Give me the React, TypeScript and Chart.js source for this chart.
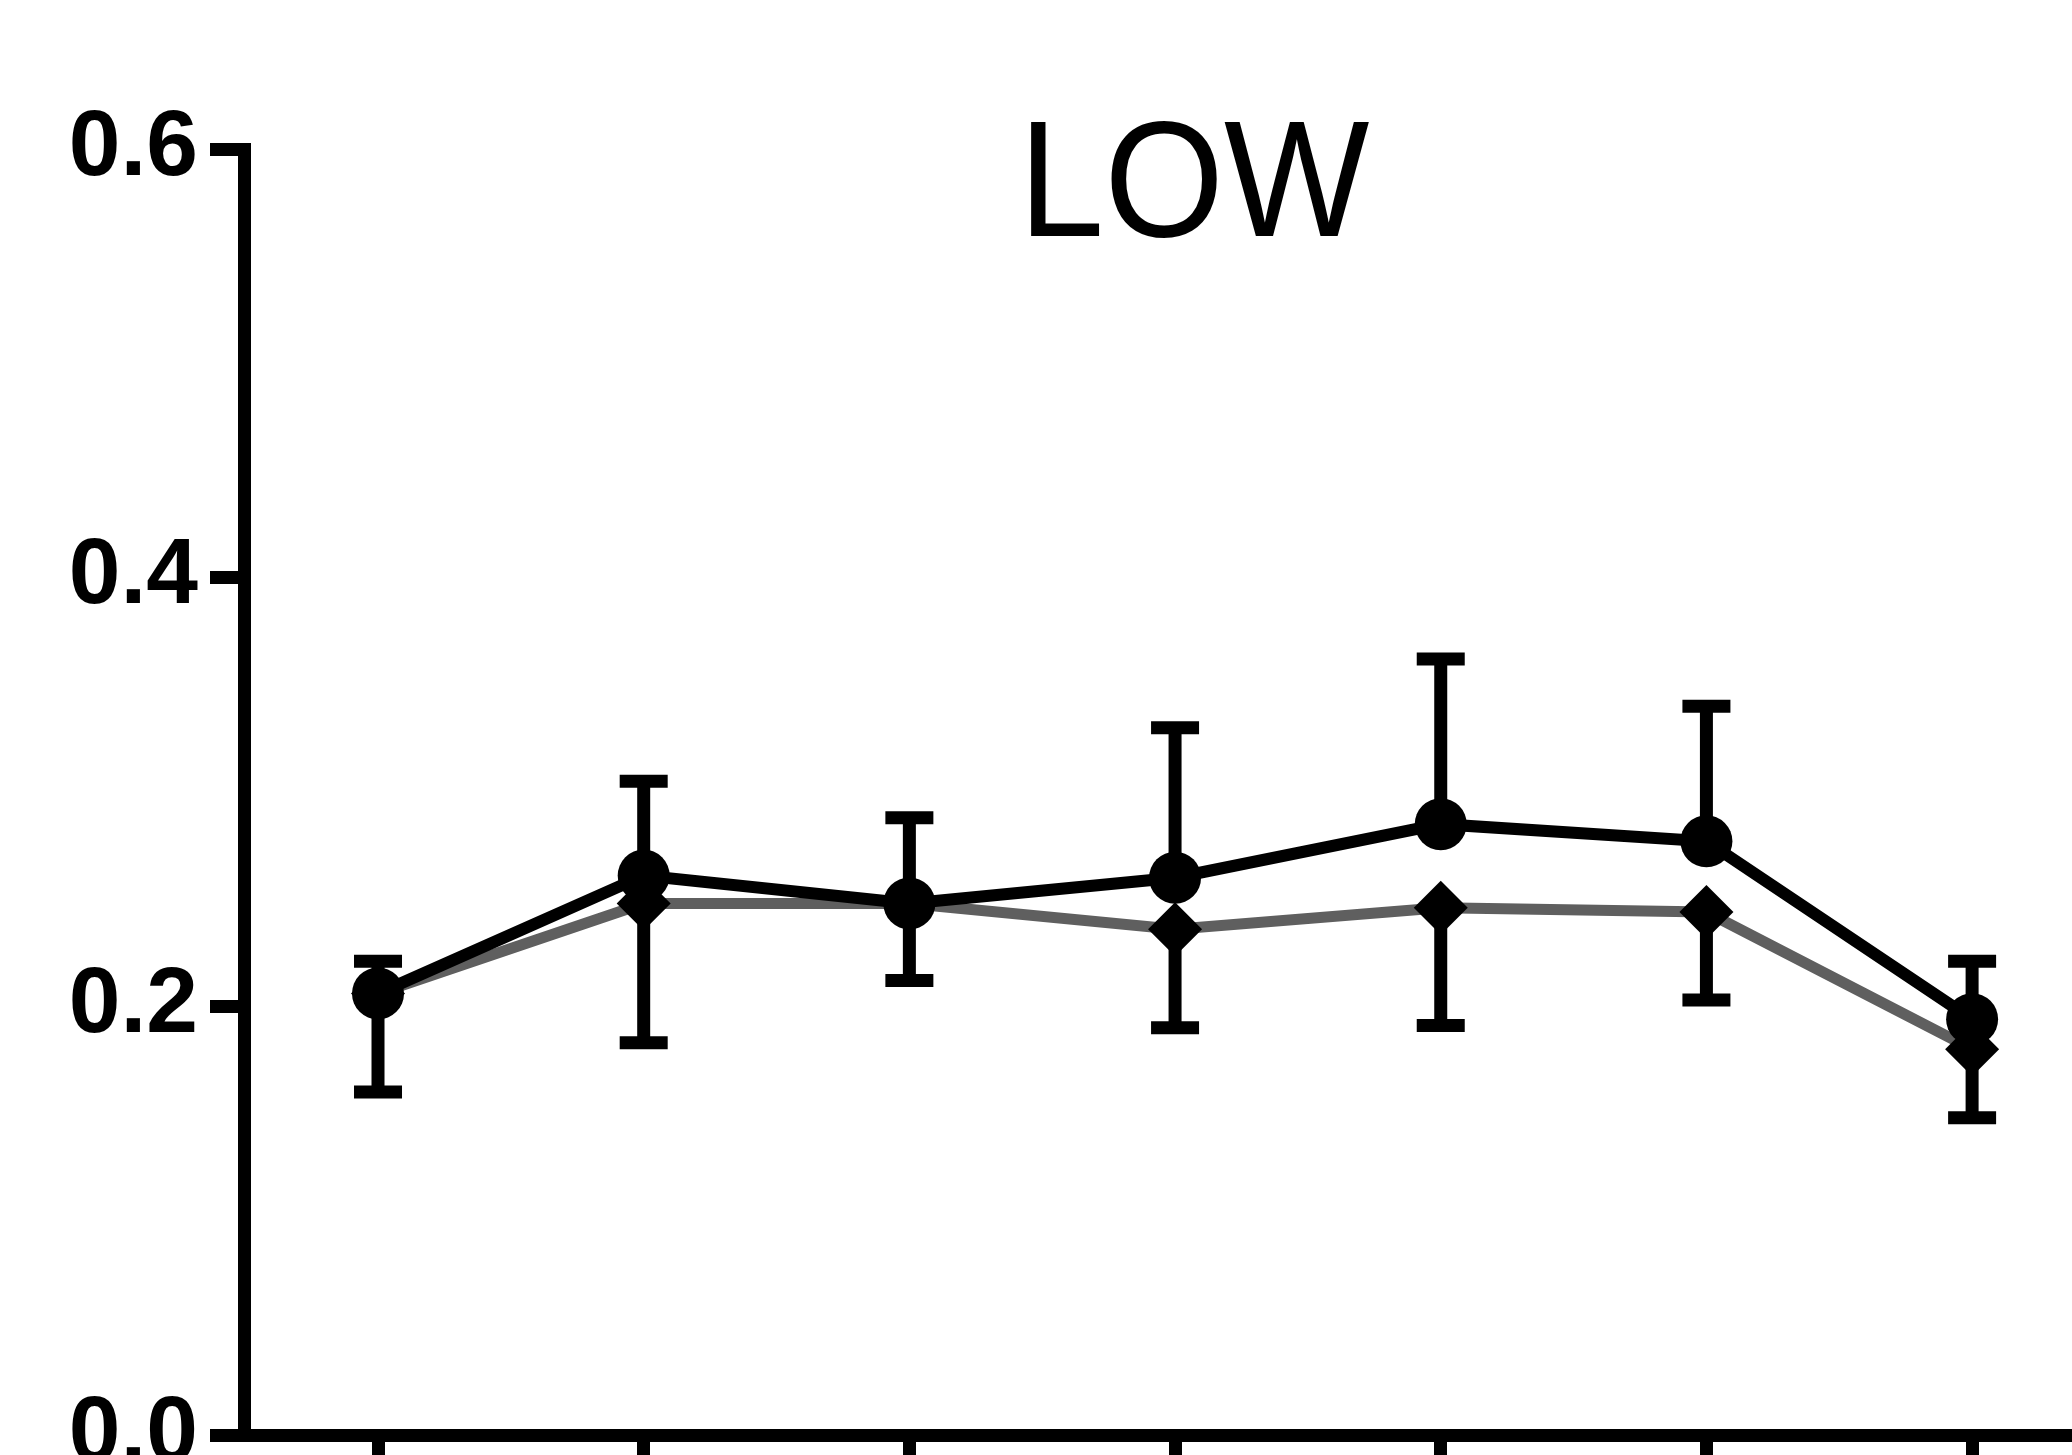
import React, { useEffect, useRef } from "react";
import { Chart, registerables } from "chart.js";

Chart.register(...registerables);

// ---- data ----
const categories = [0, 1, 2, 3, 4, 5, 6];
const circleMeans = [0.206, 0.261, 0.248, 0.26, 0.285, 0.277, 0.194];
const circleUpper = [0.221, 0.305, 0.288, 0.33, 0.362, 0.34, 0.221];
const diamondMeans = [0.206, 0.248, 0.248, 0.236, 0.246, 0.244, 0.18];
const diamondLower = [0.16, 0.183, 0.212, 0.19, 0.191, 0.203, 0.148];
const yTicks = [0, 0.2, 0.4, 0.6];
const titleText = "LOW";

const errorBarsPlugin = {
  id: "errorBars",
  beforeDatasetsDraw(chart: any) {
    const { ctx, scales } = chart;
    const x = scales.x;
    const y = scales.y;
    ctx.save();
    ctx.strokeStyle = "#000";
    ctx.lineWidth = 13;
    ctx.lineCap = "butt";
    const capHalf = 24;
    const draw = (xv: number, from: number, to: number) => {
      const px = x.getPixelForValue(xv);
      const p0 = y.getPixelForValue(from);
      const p1 = y.getPixelForValue(to);
      ctx.beginPath();
      ctx.moveTo(px, p0);
      ctx.lineTo(px, p1);
      ctx.stroke();
      ctx.beginPath();
      ctx.moveTo(px - capHalf, p1);
      ctx.lineTo(px + capHalf, p1);
      ctx.stroke();
    };
    categories.forEach((c, i) => {
      draw(c, circleMeans[i], circleUpper[i]);
      draw(c, diamondMeans[i], diamondLower[i]);
    });
    ctx.restore();
  },
};

const titlePlugin = {
  id: "lowTitle",
  afterDraw(chart: any) {
    const { ctx } = chart;
    ctx.save();
    ctx.fillStyle = "#000";
    ctx.font = "normal 154px 'Liberation Sans', Arial, sans-serif";
    ctx.textAlign = "center";
    ctx.textBaseline = "alphabetic";
    ctx.translate(1194, 236);
    ctx.scale(1, 1.07);
    ctx.fillText(titleText, 0, 0);
    ctx.restore();
  },
};

export default function App() {
  const canvasRef = useRef<HTMLCanvasElement | null>(null);

  useEffect(() => {
    if (!canvasRef.current) return;
    const chart = new Chart(canvasRef.current, {
      type: "line",
      data: {
        datasets: [
          {
            label: "circles",
            data: categories.map((c, i) => ({ x: c, y: circleMeans[i] })),
            borderColor: "#000",
            borderWidth: 12,
            pointStyle: "circle",
            pointRadius: 26,
            pointBackgroundColor: "#000",
            pointBorderColor: "#000",
            pointBorderWidth: 0,
            tension: 0,
            order: 1,
          },
          {
            label: "diamonds",
            data: categories.map((c, i) => ({ x: c, y: diamondMeans[i] })),
            borderColor: "#5f5f5f",
            borderWidth: 11,
            pointStyle: "rectRot",
            pointRadius: 27,
            pointBackgroundColor: "#000",
            pointBorderColor: "#000",
            pointBorderWidth: 0,
            tension: 0,
            order: 2,
          },
        ],
      },
      options: {
        responsive: false,
        animation: false,
        events: [],
        devicePixelRatio: 1,
        layout: { autoPadding: false, padding: { top: 149, left: 0, right: 0, bottom: 0 } },
        plugins: {
          legend: { display: false },
          tooltip: { enabled: false },
          title: { display: false },
        },
        scales: {
          x: {
            type: "linear",
            min: -0.5044,
            max: 6.376,
            afterFit(s: any) {
              s.height = 20;
              s.paddingLeft = 0;
              s.paddingRight = 0;
            },
            afterBuildTicks(s: any) {
              s.ticks = categories.map((v) => ({ value: v }));
            },
            border: { display: true, color: "#000", width: 13 },
            grid: {
              drawOnChartArea: false,
              drawTicks: true,
              tickLength: 40,
              lineWidth: 13,
              color: "#000",
            },
            ticks: { display: false },
          },
          y: {
            type: "linear",
            min: 0,
            max: 0.6,
            afterFit(s: any) {
              s.width = 244;
              s.paddingTop = 0;
              s.paddingBottom = 0;
            },
            afterBuildTicks(s: any) {
              s.ticks = yTicks.map((v) => ({ value: v }));
            },
            border: { display: true, color: "#000", width: 13 },
            grid: {
              drawOnChartArea: false,
              drawTicks: true,
              tickLength: 34,
              lineWidth: 13,
              color: "#000",
            },
            ticks: {
              color: "#000",
              padding: 12,
              font: { family: "'Liberation Sans', Arial, sans-serif", weight: "bold", size: 93 },
              callback: (v: any) => Number(v).toFixed(1),
            },
          },
        },
      },
      plugins: [errorBarsPlugin, titlePlugin],
    } as any);
    return () => chart.destroy();
  }, []);

  return (
    <div style={{ position: "fixed", left: 0, top: 0, width: 2072, height: 1455, background: "#fff", overflow: "hidden" }}>
      <canvas ref={canvasRef} width={2072} height={1455} style={{ display: "block", width: 2072, height: 1455 }} />
    </div>
  );
}
